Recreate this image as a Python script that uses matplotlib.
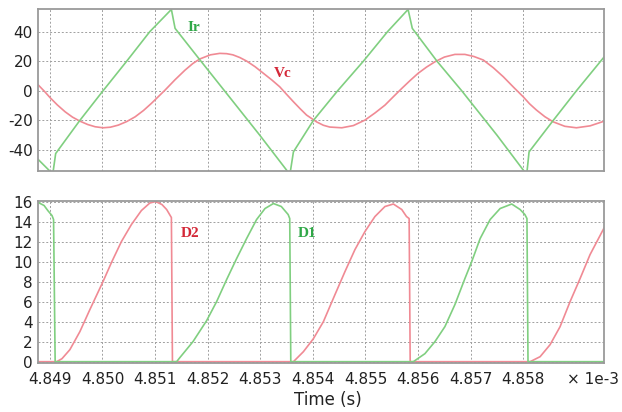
import matplotlib
matplotlib.use("Agg")
import matplotlib.pyplot as plt

# time axis is in units of 1e-3 s
t_vc = [4.84878, 4.84890, 4.84900, 4.84914, 4.84929, 4.84943, 4.84957, 4.84972,
        4.84986, 4.85001, 4.85015, 4.85030, 4.85046, 4.85062, 4.85078, 4.85093,
        4.85106, 4.85119, 4.85138, 4.85157, 4.85172, 4.85185, 4.85205, 4.85223,
        4.85236, 4.85248, 4.85261, 4.85274, 4.85290, 4.85306, 4.85322, 4.85337,
        4.85350, 4.85363, 4.85376, 4.85388, 4.85407, 4.85420, 4.85432, 4.85455,
        4.85477, 4.85499, 4.85518, 4.85537, 4.85553, 4.85569, 4.85585, 4.85600,
        4.85616, 4.85632, 4.85650, 4.85670, 4.85689, 4.85706, 4.85724, 4.85743,
        4.85762, 4.85781, 4.85800, 4.85812, 4.85825, 4.85841, 4.85857, 4.85879,
        4.85901, 4.85927, 4.85954]
vc = [3.9, -0.5, -4.5, -9.5, -14.2, -17.8, -20.5, -22.8,
      -24.3, -25.0, -24.6, -23.2, -20.8, -17.6, -13.3, -8.5,
      -4.0, 0.5, 7.5, 14.0, 18.5, 21.5, 24.3, 25.3,
      25.1, 24.3, 22.5, 20.1, 16.3, 11.8, 7.3, 2.7,
      -2.4, -7.4, -12.2, -16.4, -21.0, -23.3, -24.5, -25.0,
      -23.5, -19.8, -15.0, -9.7, -4.0, 1.6, 7.0, 11.8,
      16.0, 19.6, 22.8, 24.6, 24.6, 23.2, 20.8, 15.6,
      9.5, 2.6, -4.1, -8.8, -13.0, -17.5, -21.0, -24.0,
      -25.0, -23.7, -20.5]

t_ir = [4.84878, 4.84902, 4.84906, 4.84911, 4.84957, 4.85001, 4.85046, 4.85090,
        4.85131, 4.85138, 4.85185, 4.85232, 4.85299, 4.85353, 4.85357, 4.85363,
        4.85401, 4.85447, 4.85496, 4.85542, 4.85581, 4.85589, 4.85636, 4.85683,
        4.85750, 4.85803, 4.85807, 4.85811, 4.85857, 4.85901, 4.85954]
ir = [-46.5, -55, -55, -42.4, -20, 0, 20, 40,
      55, 42.2, 21, 0, -30, -55, -55, -41.3,
      -20, 0, 20, 40, 55, 42.2, 20, 0,
      -30, -55, -55, -41.3, -20, 0, 23]

t_d1 = [4.84878, 4.84889, 4.84896, 4.84904, 4.84907, 4.84910, 4.85141, 4.85147,
        4.85172, 4.85198, 4.85217, 4.85236, 4.85255, 4.85274, 4.85293, 4.85309,
        4.85325, 4.85340, 4.85353, 4.85356, 4.85358, 4.85591, 4.85613, 4.85632,
        4.85651, 4.85670, 4.85689, 4.85702, 4.85718, 4.85737, 4.85756, 4.85778,
        4.85794, 4.85803, 4.85807, 4.85809, 4.85954]
d1 = [15.9, 15.6, 15.1, 14.6, 14.2, 0, 0, 0.4,
      2.0, 4.1, 6.0, 8.2, 10.3, 12.3, 14.2, 15.3,
      15.8, 15.5, 14.7, 14.3, 0, 0, 0.8, 2.0,
      3.5, 5.7, 8.3, 10.0, 12.3, 14.2, 15.3, 15.75,
      15.2, 14.7, 14.3, 0, 0]

t_d2 = [4.84878, 4.84913, 4.84923, 4.84938, 4.84957, 4.84976, 4.85001, 4.85017,
        4.85036, 4.85055, 4.85074, 4.85090, 4.85101, 4.85113, 4.85122, 4.85131,
        4.85133, 4.85363, 4.85382, 4.85401, 4.85420, 4.85442, 4.85461, 4.85480,
        4.85499, 4.85518, 4.85537, 4.85553, 4.85569, 4.85578, 4.85583, 4.85585,
        4.85813, 4.85832, 4.85851, 4.85870, 4.85889, 4.85908, 4.85927, 4.85954]
d2 = [0, 0, 0.3, 1.2, 3.0, 5.2, 8.0, 9.9,
      12.0, 13.7, 15.1, 15.85, 16.0, 15.7, 15.2, 14.4,
      0, 0, 1.0, 2.3, 4.0, 6.7, 9.0, 11.2,
      13.0, 14.5, 15.5, 15.75, 15.2, 14.5, 14.3, 0,
      0, 0.5, 1.7, 3.5, 6.0, 8.3, 10.7, 13.4]

x_ticks = [4.849, 4.850, 4.851, 4.852, 4.853, 4.854, 4.855, 4.856, 4.857, 4.858]
top_yticks = [-40, -20, 0, 20, 40]
bot_yticks = [0, 2, 4, 6, 8, 10, 12, 14, 16]

GREEN = "#80cf80"
RED = "#f08a94"
GREEN_TXT = "#30a848"
RED_TXT = "#d42838"

plt.rcParams["font.family"] = "DejaVu Sans"
plt.rcParams["axes.unicode_minus"] = False

fig = plt.figure(figsize=(6.22, 4.12), dpi=100)
ax1 = fig.add_axes([0.0616, 0.5857, 0.9099, 0.3925])
ax2 = fig.add_axes([0.0616, 0.1197, 0.9099, 0.3924])

for ax in (ax1, ax2):
    ax.set_xlim(4.84878, 4.85954)
    ax.set_xticks(x_ticks)
    ax.grid(True, color="#a0a0a0", linestyle=(0, (2, 2)), linewidth=0.7)
    ax.set_axisbelow(True)
    for s in ax.spines.values():
        s.set_color("#9a9a9a")
        s.set_linewidth(1.3)
    ax.tick_params(length=0, labelsize=11, colors="#222222")
    ax.tick_params(axis="y", pad=4)
    ax.tick_params(axis="x", pad=7)

ax1.plot(t_vc, vc, color=RED, lw=1.2)
ax1.plot(t_ir, ir, color=GREEN, lw=1.2)
ax1.set_ylim(-54, 55.3)
ax1.set_yticks(top_yticks)
ax1.set_xticklabels([])
ax1.text(4.85173, 42.8, "Ir", color=GREEN_TXT, fontsize=11, fontweight="bold",
         family="Liberation Serif", ha="center", va="center")
ax1.text(4.85342, 11.7, "Vc", color=RED_TXT, fontsize=11, fontweight="bold",
         family="Liberation Serif", ha="center", va="center")

ax2.plot(t_d2, d2, color=RED, lw=1.2)
ax2.plot(t_d1, d1, color=GREEN, lw=1.2)
ax2.set_ylim(-0.1, 16.05)
ax2.set_yticks(bot_yticks)
ax2.set_xticklabels(["%.3f" % v for v in x_ticks])
ax2.text(4.85166, 12.8, "D2", color=RED_TXT, fontsize=11, fontweight="bold",
         family="Liberation Serif", ha="center", va="center")
ax2.text(4.85390, 12.8, "D1", color=GREEN_TXT, fontsize=11, fontweight="bold",
         family="Liberation Serif", ha="center", va="center")

fig.text(0.954, 0.0777, "\u00d7 1e-3", fontsize=11, color="#222222", ha="center", va="center")
fig.text(0.5265, 0.029, "Time (s)", fontsize=12, color="#222222", ha="center", va="center")

fig.savefig("out.png", dpi=100, facecolor="white")
